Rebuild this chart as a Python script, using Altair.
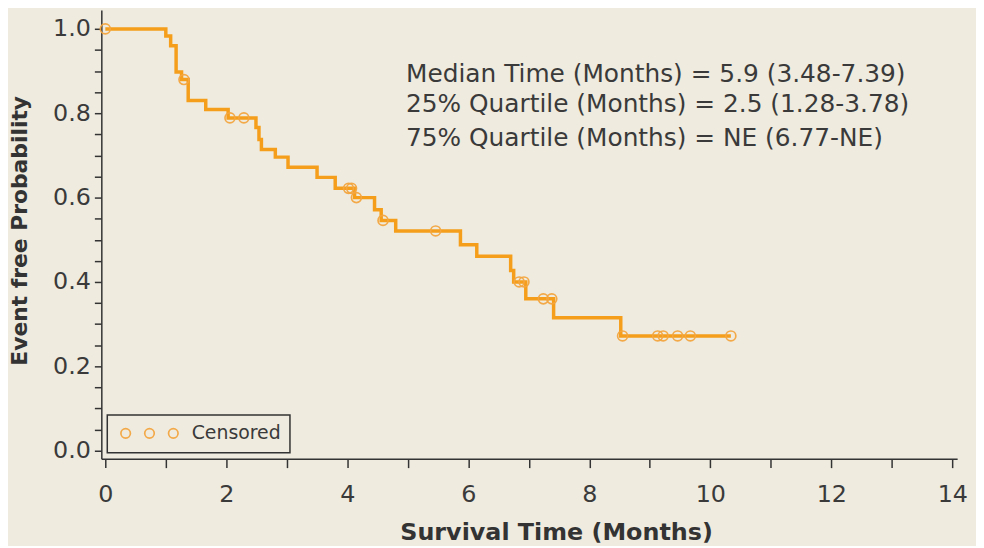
import altair as alt
import pandas as pd

# ---- data ----
event_times = [0.0, 1.00, 1.08, 1.17, 1.26, 1.37, 1.66, 2.03, 2.49, 2.54, 2.58, 2.81,
               3.02, 3.50, 3.80, 4.12, 4.45, 4.56, 4.80, 5.87, 6.14, 6.70, 6.75,
               6.95, 7.41, 8.52, 10.34]
survival = [1.0, 0.983, 0.960, 0.898, 0.880, 0.830, 0.809, 0.789, 0.766, 0.738, 0.714,
            0.696, 0.672, 0.648, 0.622, 0.600, 0.571, 0.546, 0.521, 0.488, 0.461,
            0.427, 0.400, 0.360, 0.315, 0.272, 0.272]
censor_times = [0.0, 1.30, 2.06, 2.29, 4.02, 4.07, 4.15, 4.59, 5.46, 6.84, 6.92,
                7.24, 7.38, 8.55, 9.13, 9.22, 9.46, 9.67, 10.34]
annot_lines = ["Median Time (Months) = 5.9 (3.48-7.39)",
               "25% Quartile (Months) = 2.5 (1.28-3.78)",
               "75% Quartile (Months) = NE (6.77-NE)"]
annot_x = [4.97, 4.97, 4.97]
annot_y = [0.894, 0.821, 0.741]
x_ticks = list(range(0, 15))
y_ticks = [round(i * 0.05, 2) for i in range(0, 21)]

ORANGE = "#F59E1B"
CIRCLE = "#F4A640"
BG = "#EFEBDF"
TXT = "#3a3a3a"
FONT = "DejaVu Sans"


def surv_at(t):
    s = 1.0
    for et, sv in zip(event_times, survival):
        if et <= t:
            s = sv
    return s


line_df = pd.DataFrame({"time": event_times, "surv": survival})
cens_df = pd.DataFrame({"time": censor_times,
                        "surv": [surv_at(t) for t in censor_times],
                        "kind": ["Censored"] * len(censor_times)})
text_df = pd.DataFrame({"time": annot_x, "surv": annot_y, "txt": annot_lines})

xscale = alt.Scale(domain=[-0.066, 14.08], nice=False, zero=False)
yscale = alt.Scale(domain=[-0.019, 1.045], nice=False, zero=False)

xaxis = alt.Axis(values=x_ticks, title="Survival Time (Months)",
                 labelExpr="datum.value % 2 === 0 ? datum.label : ''",
                 labelOverlap=False, labelFlush=False, grid=False,
                 tickSize=9, labelPadding=15, titlePadding=14,
                 labelFontSize=24, titleFontSize=24,
                 titleX=458, titleAnchor="start", titleAlign="center")
yaxis = alt.Axis(values=y_ticks, title="Event free Probability",
                 labelExpr="round(datum.value*100) % 20 === 0 ? format(datum.value, '.1f') : ''",
                 labelOverlap=False, labelFlush=False, grid=False,
                 tickSize=7, labelPadding=4, titlePadding=21,
                 labelFontSize=24, titleFontSize=22,
                 titleY=222, titleAnchor="start", titleAlign="center")

X = alt.X("time:Q", scale=xscale, axis=xaxis)
Y = alt.Y("surv:Q", scale=yscale, axis=yaxis)

line = alt.Chart(line_df).mark_line(
    interpolate="step-after", color=ORANGE, strokeWidth=3.5
).encode(x=X, y=Y)

legend_path = ("M-0.8,0A0.8,0.8,0,1,1,0.8,0A0.8,0.8,0,1,1,-0.8,0Z "
               "M3.2,0A0.8,0.8,0,1,1,4.8,0A0.8,0.8,0,1,1,3.2,0Z "
               "M7.2,0A0.8,0.8,0,1,1,8.8,0A0.8,0.8,0,1,1,7.2,0Z")

points = alt.Chart(cens_df).mark_point(
    shape="circle", filled=False, size=100, strokeWidth=1.7, opacity=0.95
).encode(
    x=X, y=Y,
    stroke=alt.Stroke("kind:N",
                      scale=alt.Scale(domain=["Censored"], range=[CIRCLE]),
                      legend=alt.Legend(title=None, orient="bottom-left", offset=6,
                                        symbolType=legend_path, symbolSize=144,
                                        symbolStrokeWidth=1.7,
                                        symbolFillColor="transparent",
                                        labelFontSize=19, labelFont=FONT,
                                        labelColor=TXT, labelOffset=57,
                                        padding=9, strokeColor="#333333",
                                        fillColor=BG)),
)

text = alt.Chart(text_df).mark_text(
    align="left", baseline="middle", font=FONT, fontSize=25, color=TXT
).encode(x=X, y=Y, text="txt:N")

chart = alt.layer(line, points, text).properties(
    width=862, height=452, background=BG,
    padding={"left": 0, "top": 0, "right": 8, "bottom": 0},
).configure_view(stroke="transparent").configure_axis(
    labelFont=FONT, titleFont=FONT, labelColor=TXT, titleColor="#333333",
    titleFontWeight="bold", domainColor="#333333", tickColor="#333333",
    domainWidth=1.5, tickWidth=1.5,
).configure_legend(strokeWidth=1.5)

chart.save("out.html", embed_options={"renderer": "svg", "actions": False})
